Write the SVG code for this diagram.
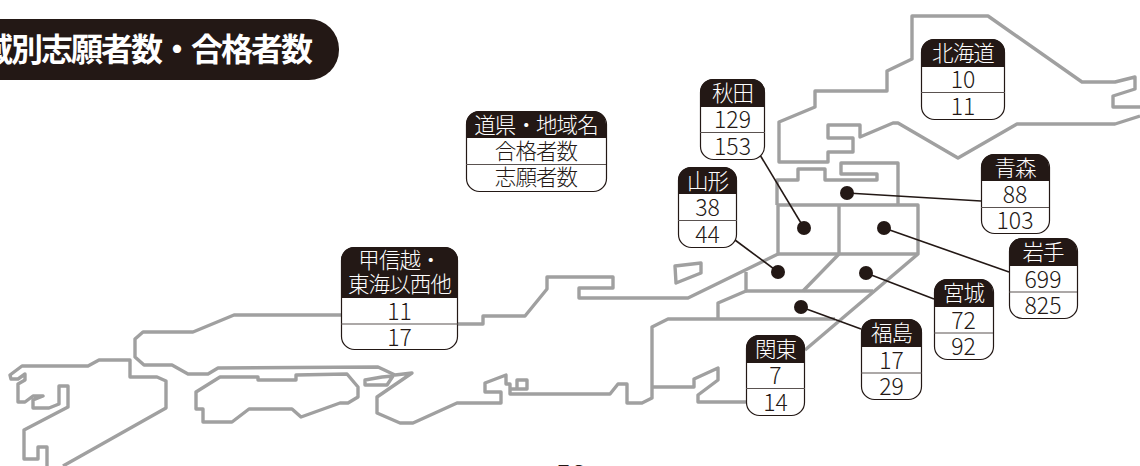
<svg xmlns="http://www.w3.org/2000/svg" width="1140" height="466" viewBox="0 0 1140 466">
<style>
text{font-family:"Noto Sans CJK JP","Noto Sans",sans-serif;text-anchor:middle;fill:#231815}
.m{fill:none;stroke:#a0a0a0;stroke-width:3.4;stroke-linejoin:round}
.c{fill:none;stroke:#231815;stroke-width:1.6}
.d{fill:#231815}
.b{fill:#fff;stroke:#231815;stroke-width:1.2}
.h{fill:#231815}
.l{stroke:#5a5250;stroke-width:1.2}
.t{font-size:21.500px;letter-spacing:-0.900px;fill:#fff;font-weight:300}
.n{font-size:23px;font-weight:300}
.s{font-size:21.500px;letter-spacing:-0.900px;font-weight:300}
</style>
<rect x="-40" y="19" width="379" height="61" rx="30" fill="#231815"/>
<text x="311" y="61" font-size="32" font-weight="700" letter-spacing="-2" style="fill:#fff;text-anchor:end">域別志願者数・合格者数</text>
<g id="map">
<polyline class="m" points="1140,107 1113,107 1113,96 1135,89 1135,77 1115,82 1082,82 988,16 912,16 912,59 887,71 887,91 815,91 815,107 779,122 779,162 828,162 828,152 853,152 853,138 828,138 828,125 860,125 860,137 893,123 898,123 958,158 1017,124 1115,124 1140,116"/>
<polyline class="m" points="777,205 777,180 798,180 798,169 825,169 825,180 877,180 877,174 841,174 841,163 898,163 898,205"/>
<polyline class="m" points="777,205 918,205 918,254 805,350"/>
<polyline class="m" points="778,205 778,254 688,298 579,298 579,288 613,288 613,277 547,277 547,289 525,316 483,316 483,324 400,324 400,315 234,315 193,332 143,332 135,339 135,357 144,365 172,365 188,374 208,374 218,368 378,367 395,375 412,373 377,397 377,413 400,423 413,423 457,403 501,403 501,392 485,392 485,383 506,375 506,384 510,384 510,394 610,394 618,384 627,384 627,403 642,403 652,398 652,327 668,319 835,319"/>
<polyline class="m" points="839,205 839,254 803,291"/>
<line class="m" x1="778" y1="254" x2="918" y2="254"/>
<polyline class="m" points="746,272 746,291 718,303 718,319"/>
<line class="m" x1="746" y1="291" x2="873" y2="291"/>
<polygon class="m" points="675,266 701,263 701,273 676,283"/>
<polyline class="m" points="510,389 527,389 527,380 517,380 517,389"/>
<polygon class="m" points="365,380 382,377 393,376 387,385 365,385"/>
<polyline class="m" points="652,387 694,387 694,379 718,368 718,380 698,395 698,402 746,402"/>
<polyline class="m" points="47,466 47,447 38,447 38,459 24,459 24,430 68,407 68,386 59,386 59,404 49,408 33,408 33,400 43,396 33,396 25,402 18,402 18,384 25,380 25,374 18,379 11,379 10,375 22,366 88,366 99,360 130,360 130,377 157,377 166,381 166,408 63,466"/>
<polygon class="m" points="196,392 220,377 258,377 258,380 296,380 296,375 347,374 358,387 358,397 348,403 340,403 301,417 292,409 249,409 232,422 203,422 203,409 196,409"/>
</g>
<g id="connectors">
<line class="c" x1="760" y1="155" x2="804" y2="228"/>
<line class="c" x1="735" y1="240" x2="778" y2="272"/>
<line class="c" x1="981" y1="201" x2="847" y2="193"/>
<line class="c" x1="1009" y1="272" x2="884" y2="228"/>
<line class="c" x1="934" y1="299" x2="866" y2="273"/>
<line class="c" x1="861" y1="329" x2="801" y2="307"/>
<circle class="d" cx="847" cy="193" r="7"/>
<circle class="d" cx="804" cy="228" r="7"/>
<circle class="d" cx="884" cy="228" r="7"/>
<circle class="d" cx="778" cy="272" r="7"/>
<circle class="d" cx="866" cy="273" r="7"/>
<circle class="d" cx="801" cy="307" r="7"/>
</g>
<g id="legend">
<rect class="b" x="466.500" y="111.500" width="140" height="80" rx="13"/>
<path class="h" d="M466 138V124a13 13 0 0 1 13-13h114a13 13 0 0 1 13 13v14z"/>
<line class="l" x1="466" y1="164.500" x2="606" y2="164.500"/>
<text class="t" x="536" y="133">道県・地域名</text>
<text class="s" x="536" y="159">合格者数</text>
<text class="s" x="536" y="184.500">志願者数</text>
</g>
<g id="hokkaido">
<rect class="b" x="921.500" y="39.500" width="83" height="80" rx="13"/>
<path class="h" d="M921 67V52a13 13 0 0 1 13-13h58a13 13 0 0 1 13 13v15z"/>
<line class="l" x1="921" y1="92.500" x2="1005" y2="92.500"/>
<text class="t" x="963" y="61">北海道</text><text class="n" x="963" y="87.500">10</text><text class="n" x="963" y="114.500">11</text>
</g>
<g id="akita">
<rect class="b" x="700.500" y="79.500" width="64" height="80" rx="13"/>
<path class="h" d="M700 107V92a13 13 0 0 1 13-13h39a13 13 0 0 1 13 13v15z"/>
<line class="l" x1="700" y1="132.500" x2="765" y2="132.500"/>
<text class="t" x="732.500" y="101">秋田</text><text class="n" x="732.500" y="127.500">129</text><text class="n" x="732.500" y="154.500">153</text>
</g>
<g id="yamagata">
<rect class="b" x="678.500" y="167.500" width="58" height="80" rx="13"/>
<path class="h" d="M678 194V180a13 13 0 0 1 13-13h33a13 13 0 0 1 13 13v14z"/>
<line class="l" x1="678" y1="220.500" x2="737" y2="220.500"/>
<text class="t" x="707.500" y="189">山形</text><text class="n" x="707.500" y="215.500">38</text><text class="n" x="707.500" y="242.500">44</text>
</g>
<g id="aomori">
<rect class="b" x="981.500" y="154.500" width="68" height="79" rx="13"/>
<path class="h" d="M981 181V167a13 13 0 0 1 13-13h42a13 13 0 0 1 13 13v14z"/>
<line class="l" x1="981" y1="207.500" x2="1049" y2="207.500"/>
<text class="t" x="1015" y="176">青森</text><text class="n" x="1015" y="202.500">88</text><text class="n" x="1015" y="228.500">103</text>
</g>
<g id="iwate">
<rect class="b" x="1009.500" y="238.500" width="68" height="80" rx="13"/>
<path class="h" d="M1009 266V251a13 13 0 0 1 13-13h42a13 13 0 0 1 13 13v15z"/>
<line class="l" x1="1009" y1="292" x2="1077" y2="292"/>
<text class="t" x="1043" y="260">岩手</text><text class="n" x="1043" y="287.500">699</text><text class="n" x="1043" y="313.500">825</text>
</g>
<g id="miyagi">
<rect class="b" x="934.500" y="279.500" width="59" height="80" rx="13"/>
<path class="h" d="M934 307V292a13 13 0 0 1 13-13h33a13 13 0 0 1 13 13v15z"/>
<line class="l" x1="934" y1="333" x2="993" y2="333"/>
<text class="t" x="963.500" y="301">宮城</text><text class="n" x="963.500" y="328.500">72</text><text class="n" x="963.500" y="354.500">92</text>
</g>
<g id="fukushima">
<rect class="b" x="861.500" y="319.500" width="60" height="80" rx="13"/>
<path class="h" d="M861 347V332a13 13 0 0 1 13-13h35a13 13 0 0 1 13 13v15z"/>
<line class="l" x1="861" y1="373" x2="922" y2="373"/>
<text class="t" x="891.500" y="341">福島</text><text class="n" x="891.500" y="368.500">17</text><text class="n" x="891.500" y="394.500">29</text>
</g>
<g id="kanto">
<rect class="b" x="746.500" y="335.500" width="58" height="80" rx="13"/>
<path class="h" d="M746 363V348a13 13 0 0 1 13-13h33a13 13 0 0 1 13 13v15z"/>
<line class="l" x1="746" y1="388.500" x2="805" y2="388.500"/>
<text class="t" x="775.500" y="357">関東</text><text class="n" x="775.500" y="383.500">7</text><text class="n" x="775.500" y="410.500">14</text>
</g>
<g id="koshinetsu">
<rect class="b" x="341.500" y="247.500" width="116" height="102" rx="13"/>
<path class="h" d="M341 298V260a13 13 0 0 1 13-13h91a13 13 0 0 1 13 13v38z"/>
<line class="l" x1="341" y1="324" x2="458" y2="324"/>
<text class="t" x="399.500" y="268">甲信越・</text><text class="t" x="399.500" y="292">東海以西他</text><text class="n" x="399.500" y="319.500">11</text><text class="n" x="399.500" y="345.500">17</text>
</g>
<text x="571" y="485" font-size="28">58</text>
</svg>
